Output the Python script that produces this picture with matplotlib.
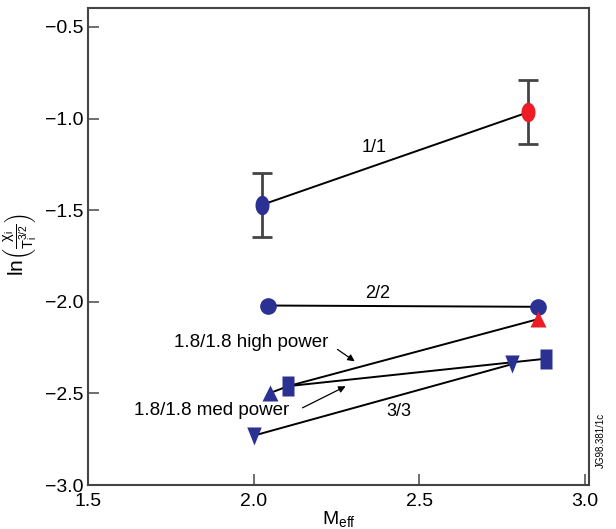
import numpy as np
import matplotlib
matplotlib.use('Agg')
import matplotlib.pyplot as plt
from matplotlib.path import Path

# data
x_11 = [2.026, 2.829]
y_11 = [-1.47, -0.965]
err_11 = [0.175, 0.175]
col_11 = ['#2b3192', '#ed1c24']

x_22 = [2.044, 2.857]
y_22 = [-2.02, -2.027]

x_high = [2.05, 2.104, 2.857]
y_high = [-2.497, -2.46, -2.095]

x_med = [2.104, 2.884]
y_med = [-2.46, -2.31]

x_33 = [2.0, 2.78]
y_33 = [-2.73, -2.34]

xticks = [1.5, 2.0, 2.5, 3.0]
yticks = [-3.0, -2.5, -2.0, -1.5, -1.0, -0.5]

BLUE = '#2b3192'
RED = '#ed1c24'

plt.rcParams['font.family'] = ['Liberation Sans', 'DejaVu Sans']
plt.rcParams['mathtext.fontset'] = 'custom'
plt.rcParams['mathtext.rm'] = 'Liberation Sans'
plt.rcParams['mathtext.it'] = 'Liberation Sans:italic'
plt.rcParams['mathtext.sf'] = 'Liberation Sans'
plt.rcParams['mathtext.default'] = 'rm'

t = np.linspace(0, 2 * np.pi, 40)
ellipse = Path(np.column_stack([0.72 * np.cos(t), np.sin(t)]))
tall_sq = Path([(-0.62, -1), (0.62, -1), (0.62, 1), (-0.62, 1), (-0.62, -1)], closed=True)
down_tri = Path([(-0.8, 1), (0.8, 1), (0, -1), (-0.8, 1)], closed=True)

fig = plt.figure(figsize=(6.16, 5.29), dpi=100)
ax = fig.add_axes([0.143, 0.083, 0.813, 0.902])

lk = dict(color='black', lw=1.4, zorder=2)
ax.plot(x_11, y_11, **lk)
ax.plot(x_22, y_22, **lk)
ax.plot(x_high, y_high, **lk)
ax.plot(x_med, y_med, **lk)
ax.plot(x_33, y_33, **lk)

for xi, yi, ei, ci in zip(x_11, y_11, err_11, col_11):
    ax.errorbar(xi, yi, yerr=ei, fmt='none', ecolor='#444444', elinewidth=2,
                capsize=7, capthick=2, zorder=3)
    ax.plot(xi, yi, marker=ellipse, ms=14, color=ci, mec='none', zorder=4)

ax.plot(x_22, y_22, 'o', ms=12, color=BLUE, mec='none', zorder=4)
ax.plot(x_high[0], y_high[0], '^', ms=12, color=BLUE, mec='none', zorder=4)
ax.plot(x_high[2], y_high[2], '^', ms=12, color=RED, mec='none', zorder=4)
ax.plot(x_med, y_med, marker=tall_sq, ms=15, ls='none', color=BLUE, mec='none', zorder=4)
ax.plot(x_33, y_33, marker=down_tri, ms=13, ls='none', color=BLUE, mec='none', zorder=4)

ax.text(2.364, -1.155, '1/1', fontsize=13, ha='center', va='center')
ax.text(2.373, -1.956, '2/2', fontsize=13, ha='center', va='center')
ax.text(2.437, -2.60, '3/3', fontsize=13, ha='center', va='center')
ax.text(1.992, -2.224, '1.8/1.8 high power', fontsize=13.5, ha='center', va='center')
ax.text(1.872, -2.595, '1.8/1.8 med power', fontsize=13.5, ha='center', va='center')
ax.annotate('', xy=(2.312, -2.333), xytext=(2.246, -2.251),
            arrowprops=dict(arrowstyle='-|>', color='black', lw=0.9, mutation_scale=10))
ax.annotate('', xy=(2.285, -2.454), xytext=(2.14, -2.585),
            arrowprops=dict(arrowstyle='-|>', color='black', lw=0.9, mutation_scale=10))

ax.set_xlim(1.5, 3.012)
ax.set_ylim(-3.0, -0.396)
ax.set_xticks(xticks)
ax.set_yticks(yticks)
ax.set_xticklabels(['%.1f' % v for v in xticks])
ax.set_yticklabels(['\u2212%.1f' % abs(v) for v in yticks])
ax.tick_params(direction='in', length=8, width=1.2, color='#555555', labelsize=14)
ax.tick_params(axis='x', pad=6)
ax.tick_params(axis='y', pad=3)
for s in ax.spines.values():
    s.set_color('#444444')
    s.set_linewidth(1.5)

ax.set_xlabel(r'M$_{\mathrm{eff}}$', fontsize=14, labelpad=-1)
# y label placed by hand so its right edge sits just left of the tick labels
fig.text(40 / 616, 1 - 245 / 529, r'ln$\left(\frac{\chi_i}{T_i^{3/2}}\right)$',
         fontsize=15, rotation=90, ha='right', va='center')

fig.text(0.975, 0.168, 'JG98.381/1c', fontsize=7, rotation=90, ha='center', va='center')

fig.savefig('out.png', dpi=100)
